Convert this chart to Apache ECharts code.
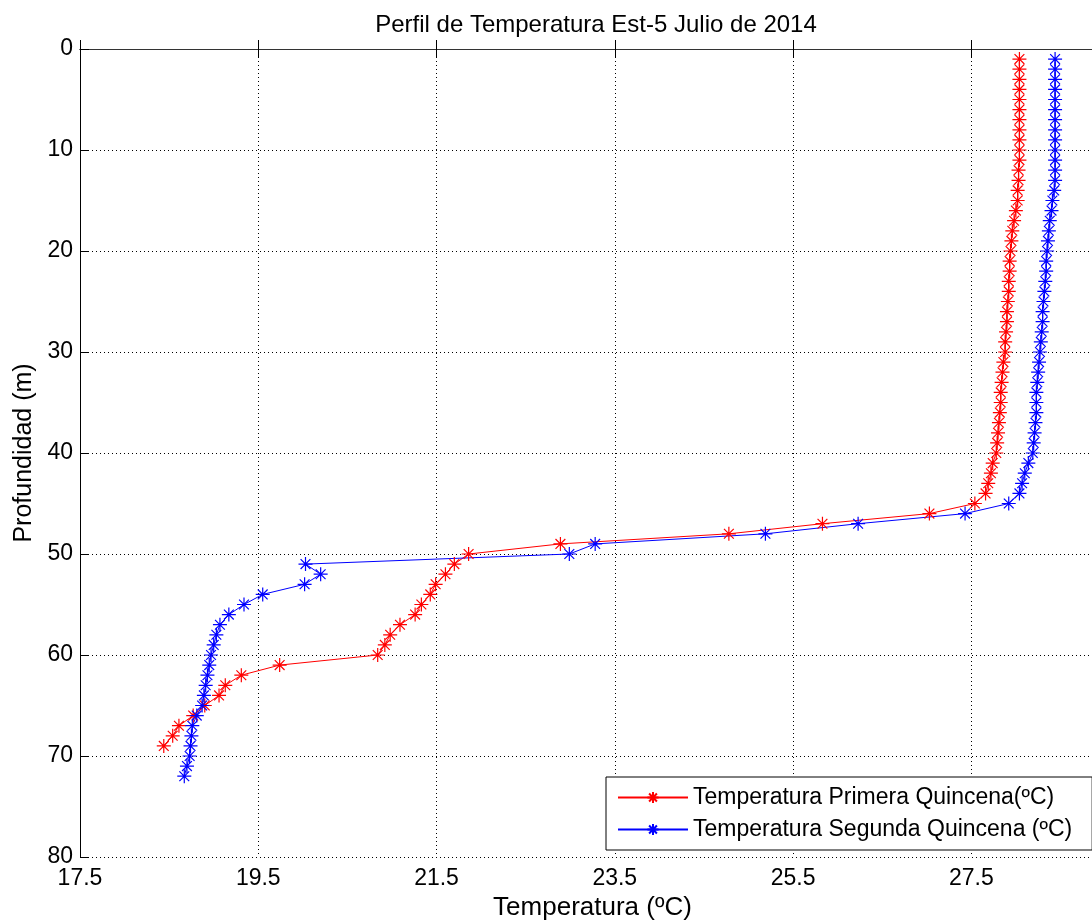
<html>
<head>
    <meta charset="utf-8" />
    <script src="https://cdn.jsdelivr.net/npm/echarts@6.0.0/dist/echarts.min.js"></script>
    <style>
        html, body { margin: 0; padding: 0; background: #fff; }
        #chart { width: 1092px; height: 924px; }
    </style>
</head>
<body>
    <div id="chart"></div>
    <script>
        // perfil de temperatura, profundidad en metros
        var depthPrimera = [1, 2, 3, 4, 5, 6, 7, 8, 9, 10, 11, 12, 13, 14, 15, 16, 17, 18, 19, 20,
            21, 22, 23, 24, 25, 26, 27, 28, 29, 30, 31, 32, 33, 34, 35, 36, 37, 38, 39, 40,
            41, 42, 43, 44, 45, 46, 47, 48, 49, 50, 51, 52, 53, 54, 55, 56, 57, 58, 59, 60,
            61, 62, 63, 64, 65, 66, 67, 68, 69];
        var tempPrimera = [28.04, 28.04, 28.04, 28.04, 28.04, 28.04, 28.04, 28.04, 28.04, 28.04,
            28.04, 28.03, 28.03, 28.02, 28.02, 28.00, 27.98, 27.96, 27.95, 27.94,
            27.93, 27.93, 27.92, 27.92, 27.91, 27.90, 27.90, 27.89, 27.88, 27.88,
            27.86, 27.85, 27.84, 27.83, 27.83, 27.82, 27.81, 27.80, 27.79, 27.78,
            27.74, 27.72, 27.69, 27.66, 27.54, 27.03, 25.83, 24.78, 22.89, 21.86,
            21.70, 21.60, 21.49, 21.43, 21.33, 21.26, 21.09, 20.98, 20.92, 20.84,
            19.74, 19.31, 19.13, 19.06, 18.90, 18.77, 18.61, 18.54, 18.44];

        var depthSegunda = [1, 2, 3, 4, 5, 6, 7, 8, 9, 10, 11, 12, 13, 14, 15, 16, 17, 18, 19, 20,
            21, 22, 23, 24, 25, 26, 27, 28, 29, 30, 31, 32, 33, 34, 35, 36, 37, 38, 39, 40,
            41, 42, 43, 44, 45, 46, 47, 48, 49, 50, 51, 52, 53, 54, 55, 56, 57, 58, 59, 60,
            61, 62, 63, 64, 65, 66, 67, 68, 69, 70, 71, 72];
        var tempSegunda = [28.44, 28.44, 28.44, 28.44, 28.44, 28.44, 28.44, 28.44, 28.44, 28.44,
            28.44, 28.44, 28.44, 28.43, 28.41, 28.40, 28.38, 28.37, 28.36, 28.35,
            28.34, 28.34, 28.33, 28.32, 28.31, 28.30, 28.30, 28.29, 28.28, 28.27,
            28.26, 28.25, 28.24, 28.23, 28.23, 28.23, 28.22, 28.21, 28.20, 28.19,
            28.14, 28.10, 28.07, 28.04, 27.92, 27.43, 26.23, 25.19, 23.28, 22.99,
            20.03, 20.20, 20.02, 19.55, 19.34, 19.17, 19.07, 19.03, 19.00, 18.97,
            18.95, 18.93, 18.91, 18.89, 18.87, 18.81, 18.76, 18.75, 18.74, 18.73,
            18.70, 18.67];

        var seriesNames = ['Temperatura Primera Quincena(ºC)', 'Temperatura Segunda Quincena (ºC)'];

        var pairs = function (xs, ys) {
            return xs.map(function (x, i) { return [x, ys[i]]; });
        };

        var font = 'Liberation Sans, Arial, sans-serif';
        var star = 'path://M0,-10L0,10M-10,0L10,0M-7,-7L7,7M-7,7L7,-7';

        var makeSeries = function (name, color, data) {
            return {
                name: name,
                type: 'line',
                data: data,
                symbol: star,
                symbolSize: 14,
                showAllSymbol: true,
                lineStyle: { color: color, width: 1 },
                itemStyle: { color: color, borderColor: color, borderWidth: 1.2 },
                emphasis: { disabled: true },
                animation: false
            };
        };

        var myChart = echarts.init(document.getElementById('chart'));

        var option = {
            backgroundColor: '#fff',
            textStyle: { fontFamily: font },
            title: {
                text: 'Perfil de Temperatura Est-5 Julio de 2014',
                left: 591,
                textAlign: 'center',
                top: 8,
                textStyle: { fontFamily: font, fontSize: 24, fontWeight: 'normal', color: '#000' }
            },
            // la caja de ejes sigue mas alla del borde derecho
            grid: { left: 80, top: 49, width: 1025, height: 808, outerBoundsMode: 'none' },
            legend: {
                orient: 'vertical',
                left: 606,
                top: 777,
                width: 480,
                padding: [9, 20, 9, 11],
                itemWidth: 70,
                itemHeight: 14,
                itemGap: 9,
                backgroundColor: '#fff',
                borderColor: '#000',
                borderWidth: 1,
                selectedMode: false,
                textStyle: { fontFamily: font, fontSize: 23, color: '#000' },
                data: seriesNames
            },
            xAxis: [{
                type: 'value',
                min: 17.5,
                max: 29,
                interval: 2,
                position: 'bottom',
                name: 'Temperatura (ºC)',
                nameLocation: 'middle',
                nameGap: 38,
                nameTextStyle: { fontFamily: font, fontSize: 26, color: '#000' },
                axisLine: { show: true, lineStyle: { color: '#000', width: 1 } },
                axisTick: { show: true, inside: true, length: 9, lineStyle: { color: '#000' } },
                axisLabel: { fontFamily: font, fontSize: 23, color: '#000', margin: 10, showMaxLabel: false },
                splitLine: { show: true, lineStyle: { color: '#000', type: [1, 3], width: 1 } }
            }, {
                type: 'value',
                min: 17.5,
                max: 29,
                interval: 2,
                position: 'top',
                axisLine: { show: true, lineStyle: { color: '#333', width: 1 } },
                axisTick: { show: true, inside: true, length: 9, lineStyle: { color: '#000' } },
                axisLabel: { show: false },
                splitLine: { show: false }
            }],
            yAxis: {
                type: 'value',
                min: 0,
                max: 80,
                interval: 10,
                inverse: true,
                name: 'Profundidad (m)',
                nameLocation: 'middle',
                nameRotate: 90,
                nameGap: 36,
                nameTextStyle: { fontFamily: font, fontSize: 25, color: '#000' },
                axisLine: { show: true, lineStyle: { color: '#000', width: 1 } },
                axisTick: { show: true, inside: true, length: 9, lineStyle: { color: '#000' } },
                axisLabel: { fontFamily: font, fontSize: 23, color: '#000', margin: 7 },
                splitLine: { show: true, lineStyle: { color: '#000', type: [1, 3], width: 1 } }
            },
            series: [
                makeSeries(seriesNames[0], '#ff0000', pairs(tempPrimera, depthPrimera)),
                makeSeries(seriesNames[1], '#0000ff', pairs(tempSegunda, depthSegunda))
            ],
            animation: false
        };

        myChart.setOption(option);
    </script>
</body>
</html>
